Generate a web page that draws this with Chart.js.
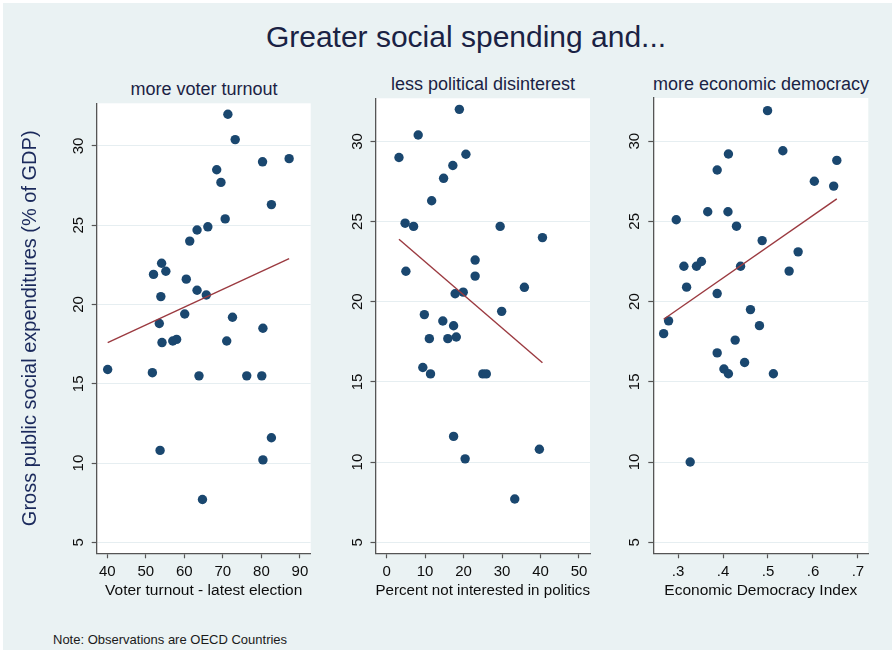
<!doctype html>
<html lang="en">
<head>
<meta charset="utf-8">
<title>Greater social spending and...</title>
<script src="https://cdn.jsdelivr.net/npm/chart.js"></script>
<style>
  body { margin: 0; background: #fff; font-family: 'Liberation Sans', Arial, sans-serif; }
  #frame { position: absolute; left: 3px; top: 3px; width: 889px; height: 647px; background: #eaf2f3; }
  canvas { position: absolute; }
  .txt { position: absolute; white-space: nowrap; }
  .title { left: 166px; width: 600px; top: 20px; line-height: 34px; font-size: 30px; color: #1a2244; text-align: center; }
  .sub { width: 300px; line-height: 22px; font-size: 18px; color: #1a2244; text-align: center; }
  .note { left: 53px; top: 632px; line-height: 16px; font-size: 13px; color: #1a1a1a; }
</style>
</head>
<body>
  <div id="frame"></div>
  <div class="txt title">Greater social spending and...</div>
  <div class="txt sub" style="left: 54px; top: 78px;">more voter turnout</div>
  <div class="txt sub" style="left: 333px; top: 73px;">less political disinterest</div>
  <div class="txt sub" style="left: 611px; top: 73px;">more economic democracy</div>
  <div class="txt note">Note: Observations are OECD Countries</div>

  <canvas id="turnout" width="330" height="510" style="left: 0; top: 96px;"></canvas>
  <canvas id="disinterest" width="280" height="516" style="left: 330px; top: 90px;"></canvas>
  <canvas id="democracy" width="285" height="516" style="left: 610px; top: 90px;"></canvas>

<script>
// gross public social expenditures (% of GDP), one point per OECD country
const turnoutX = [71.3, 73.2, 80.3, 87.2, 68.4, 69.5, 82.6, 70.6, 66.1, 63.3, 61.4, 54.1, 55.2, 52.0, 60.5, 63.3, 65.7, 53.9, 60.1, 72.5, 53.5, 80.4, 54.2, 57.0, 58.0, 71.0, 40.1, 51.7, 63.8, 76.2, 80.1, 82.6, 53.7, 80.4, 64.7]
const turnoutY = [32.0, 30.4, 29.0, 29.2, 28.5, 27.7, 26.3, 25.4, 24.9, 24.7, 24.0, 22.6, 22.1, 21.9, 21.6, 20.9, 20.6, 20.5, 19.4, 19.2, 18.8, 18.5, 17.6, 17.7, 17.8, 17.7, 15.9, 15.7, 15.5, 15.5, 15.5, 11.6, 10.8, 10.2, 7.7]

const disinterestX = [18.9, 8.2, 3.2, 20.6, 17.2, 14.8, 11.7, 4.8, 7.0, 29.5, 40.5, 23.0, 5.0, 23.0, 35.8, 19.9, 17.8, 9.8, 29.9, 14.6, 17.4, 11.1, 15.9, 18.1, 9.4, 11.4, 25.0, 25.9, 17.4, 39.7, 20.4, 33.3]
const disinterestY = [32.0, 30.4, 29.0, 29.2, 28.5, 27.7, 26.3, 24.9, 24.7, 24.7, 24.0, 22.6, 21.9, 21.6, 20.9, 20.6, 20.5, 19.2, 19.4, 18.8, 18.5, 17.7, 17.7, 17.8, 15.9, 15.5, 15.5, 15.5, 11.6, 10.8, 10.2, 7.7]

const democracyX = [0.499, 0.533, 0.412, 0.653, 0.387, 0.603, 0.646, 0.296, 0.366, 0.411, 0.430, 0.487, 0.567, 0.313, 0.341, 0.352, 0.439, 0.547, 0.319, 0.387, 0.461, 0.279, 0.481, 0.268, 0.427, 0.387, 0.448, 0.402, 0.412, 0.512, 0.327]
const democracyY = [31.9, 29.4, 29.2, 28.8, 28.2, 27.5, 27.2, 25.1, 25.6, 25.6, 24.7, 23.8, 23.1, 22.2, 22.2, 22.5, 22.2, 21.9, 20.9, 20.5, 19.5, 18.8, 18.5, 18.0, 17.6, 16.8, 16.2, 15.8, 15.5, 15.5, 10.0]

// linear fit endpoints
const turnoutFitX = [40.1, 87.2]
const turnoutFitY = [17.6, 22.9]
const disinterestFitX = [3.2, 40.5]
const disinterestFitY = [23.9, 16.2]
const democracyFitX = [0.268, 0.653]
const democracyFitY = [18.9, 26.4]

// axis ticks
const spendingTicks = [5, 10, 15, 20, 25, 30]
const turnoutTicks = [40, 50, 60, 70, 80, 90]
const disinterestTicks = [0, 10, 20, 30, 40, 50]
const democracyTicks = [0.3, 0.4, 0.5, 0.6, 0.7]
const democracyTickLabels = ['.3', '.4', '.5', '.6', '.7']

Chart.defaults.font.family = "'Liberation Sans', Arial, sans-serif"

const navy = '#1a476f'
const maroon = '#9b3a40'
const axisGray = '#555555'

// white plot region on the blue-grey graph background
const plotBackground = {
  id: 'plotBackground',
  beforeDraw(chart) {
    const { ctx, chartArea: a } = chart
    ctx.save()
    ctx.fillStyle = '#ffffff'
    ctx.fillRect(a.left, a.top, a.right - a.left, a.bottom - a.top)
    ctx.restore()
  }
}

const toPoints = (xs, ys) => xs.map((x, i) => ({ x: x, y: ys[i] }))

function drawPanel(id, xs, ys, fitX, fitY, xAxis, yTitle, geo) {
  new Chart(document.getElementById(id), {
    type: 'scatter',
    data: {
      datasets: [
        {
          data: toPoints(fitX, fitY),
          showLine: true,
          borderColor: maroon,
          borderWidth: 1.4,
          pointRadius: 0,
          order: 1
        },
        {
          data: toPoints(xs, ys),
          backgroundColor: navy,
          borderColor: navy,
          borderWidth: 0,
          pointRadius: 4.7,
          order: 2
        }
      ]
    },
    options: {
      responsive: false,
      animation: false,
      events: [],
      layout: { padding: { top: geo.padTop, right: geo.padRight, left: 0, bottom: 0 } },
      plugins: { legend: { display: false }, tooltip: { enabled: false } },
      scales: {
        x: {
          type: 'linear',
          min: xAxis.min,
          max: xAxis.max,
          afterBuildTicks(scale) {
            scale.ticks = xAxis.ticks.map((v) => ({ value: v }))
          },
          afterFit(scale) {
            scale.height = geo.xHeight
            scale.paddingLeft = 0
            scale.paddingRight = 0
          },
          ticks: {
            autoSkip: false,
            maxRotation: 0,
            padding: 5,
            color: '#0d0d0d',
            font: { size: 15 },
            callback: (v, i) => xAxis.labels ? xAxis.labels[i] : v
          },
          grid: { drawOnChartArea: false, tickLength: 5, tickColor: axisGray, tickWidth: 1.2 },
          border: { color: axisGray, width: 1.3 },
          title: {
            display: true,
            text: xAxis.title,
            color: '#0d0d0d',
            font: { size: 15.5 },
            padding: { top: 0, bottom: 5.5 }
          }
        },
        y: {
          type: 'linear',
          min: 4.31,
          max: 32.69,
          afterBuildTicks(scale) {
            scale.ticks = spendingTicks.map((v) => ({ value: v }))
          },
          afterFit(scale) {
            scale.width = geo.yWidth
            scale.paddingTop = 0
            scale.paddingBottom = 0
          },
          ticks: {
            minRotation: 90,
            maxRotation: 90,
            crossAlign: 'center',
            padding: 4.6,
            color: '#0d0d0d',
            font: { size: 15 }
          },
          grid: { color: '#e6eef1', lineWidth: 1, tickLength: 5, tickColor: axisGray, tickWidth: 1.2 },
          border: { color: axisGray, width: 1.3 },
          title: {
            display: !!yTitle,
            text: yTitle,
            color: '#1b2a5c',
            font: { size: 20 },
            padding: { top: 18, bottom: 0 }
          }
        }
      }
    },
    plugins: [plotBackground]
  })
}

drawPanel('turnout', turnoutX, turnoutY, turnoutFitX, turnoutFitY,
  { min: 37.25, max: 92.8, ticks: turnoutTicks, title: 'Voter turnout - latest election' },
  'Gross public social expenditures (% of GDP)',
  { padTop: 7.3, padRight: 19.3, yWidth: 96.7, xHeight: 52.7 })

drawPanel('disinterest', disinterestX, disinterestY, disinterestFitX, disinterestFitY,
  { min: -2.9, max: 52.86, ticks: disinterestTicks, title: 'Percent not interested in politics' },
  '',
  { padTop: 8.3, padRight: 20, yWidth: 45.5, xHeight: 52.7 })

drawPanel('democracy', democracyX, democracyY, democracyFitX, democracyFitY,
  { min: 0.245, max: 0.723, ticks: democracyTicks, labels: democracyTickLabels, title: 'Economic Democracy Index' },
  '',
  { padTop: 8, padRight: 26.7, yWidth: 43.3, xHeight: 52.7 })
</script>
</body>
</html>
